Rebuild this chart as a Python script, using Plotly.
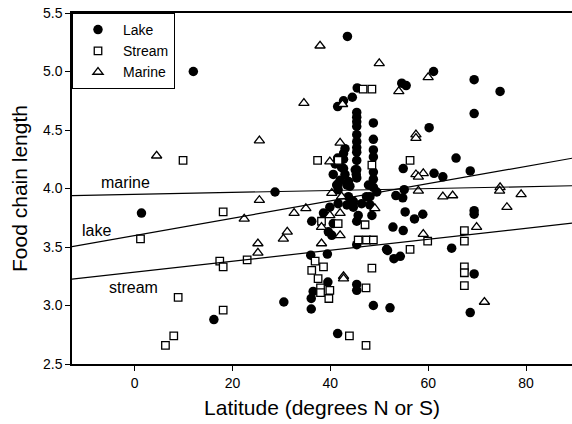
import plotly.graph_objects as go

# ---- data ----
lake_lat = [12.0, 1.4, 28.7, 43.5, 61.1, 69.4, 74.7, 54.6, 55.5, 69.4, 60.2, 65.7, 68.6, 61.2, 63.0, 54.9,
            41.5, 42.7, 44.5, 45.5,
            45.4, 45.4, 45.4, 45.4, 45.4, 45.4, 45.4, 45.4, 45.4, 45.4, 45.4,
            48.8, 48.8, 48.8, 48.8, 48.8, 48.8, 48.8,
            43.0, 42.7, 41.5, 42.7, 41.0, 42.7, 43.0, 42.0, 43.4, 41.6, 43.7, 44.7, 46.4, 47.8, 48.1, 40.6,
            41.3, 42.3, 41.6, 43.7, 44.0, 45.1, 45.3, 49.5, 47.4,
            36.2, 38.6, 39.9, 41.6, 43.4, 44.7, 48.1, 45.7, 48.5, 40.6, 39.6, 40.3, 45.4, 45.4, 36.0, 39.4, 51.5,
            55.3, 57.2, 58.9, 52.8, 54.9, 51.7, 53.0, 54.3, 64.8, 69.4, 69.4, 69.4, 68.6, 48.8, 52.2, 41.5,
            45.4, 45.4, 39.5, 36.5, 36.1, 36.1, 53.4, 55.1, 54.8, 16.2, 30.5]
lake_fcl = [5.00, 3.79, 3.97, 5.30, 5.00, 4.93, 4.83, 4.90, 4.88, 4.64, 4.52, 4.26, 4.15, 4.13, 4.10, 4.17,
            4.70, 4.75, 4.78, 4.86,
            4.65, 4.61, 4.57, 4.53, 4.46, 4.40, 4.35, 4.31, 4.24, 4.16, 4.09,
            4.56, 4.42, 4.33, 4.27, 4.14, 4.08, 4.01,
            4.34, 4.30, 4.26, 4.25, 4.21, 4.17, 4.12, 4.07, 4.03, 3.99, 3.93, 3.89, 3.87, 4.03, 3.93, 4.12,
            4.03, 4.18, 4.04, 4.06, 4.02, 4.16, 4.12, 3.97, 3.93,
            3.72, 3.79, 3.84, 3.87, 3.86, 3.84, 3.86, 3.77, 3.77, 3.70, 3.63, 3.60, 3.72, 3.52, 3.43, 3.44, 3.48,
            3.80, 3.74, 3.78, 3.67, 3.64, 3.47, 3.40, 3.42, 3.49, 3.81, 3.78, 3.27, 2.94, 3.00, 2.98, 2.76,
            3.18, 3.13, 3.20, 3.12, 3.06, 2.97, 3.94, 3.99, 3.92, 2.88, 3.03]

stream_lat = [9.9, 18.1, 1.2, 17.4, 18.1, 23.0, 8.9, 18.1, 8.0, 6.3,
              46.7, 48.5, 48.5, 37.4, 41.6, 56.3,
              38.2, 41.6, 47.1, 45.7, 47.4, 48.8, 36.9, 38.6, 36.2, 48.5, 37.5, 38.0, 38.0, 39.9, 39.7,
              47.3, 43.9, 47.3,
              67.4, 67.4, 59.9, 56.3, 67.4, 67.4, 67.4]
stream_fcl = [4.24, 3.80, 3.57, 3.38, 3.33, 3.39, 3.07, 2.96, 2.74, 2.66,
              4.85, 4.85, 4.20, 4.24, 4.24, 4.24,
              3.72, 3.70, 3.69, 3.56, 3.56, 3.56, 3.38, 3.33, 3.30, 3.32, 3.23, 3.15, 3.11, 3.13, 3.06,
              3.15, 2.74, 2.66,
              3.64, 3.55, 3.55, 3.48, 3.33, 3.28, 3.17]

marine_lat = [4.5, 25.5, 34.6, 37.9, 50.0, 42.5, 54.0, 60.0, 57.5, 57.5, 57.5, 59.0, 58.0, 58.0, 63.0, 65.0,
              74.7, 74.6, 79.0, 76.1, 69.9, 59.0, 71.5,
              25.5, 22.4, 25.2, 25.2, 32.6, 35.0, 31.2, 30.4, 38.2, 38.2, 39.9, 42.0, 49.1, 42.0, 42.0,
              39.9, 40.3, 42.3, 42.7, 42.7]
marine_fcl = [4.28, 4.41, 4.73, 5.22, 5.07, 4.72, 4.83, 4.95, 4.46, 4.43, 4.12, 4.13, 4.10, 3.98, 3.93, 3.94,
              4.01, 3.98, 3.95, 3.84, 3.67, 3.61, 3.03,
              3.90, 3.74, 3.53, 3.45, 3.79, 3.83, 3.63, 3.57, 3.53, 3.67, 3.77, 3.60, 3.83, 3.79, 4.39,
              4.23, 3.96, 3.93, 3.25, 3.23]

# regression lines: label, intercept, slope, label position
fit_names = ["marine", "lake", "stream"]
fit_intercept = [3.950, 3.598, 3.285]
fit_slope = [0.00082, 0.00739, 0.00468]
fit_label_x = [-1.8, -7.8, -0.2]
fit_label_y = [4.05, 3.64, 3.15]

x_range = [-12.8, 89.4]
y_range = [2.5, 5.5]
x_ticks = [0, 20, 40, 60, 80]
y_ticks = [2.5, 3.0, 3.5, 4.0, 4.5, 5.0, 5.5]

FONT = "Arial, Liberation Sans, sans-serif"

fig = go.Figure()
fig.add_trace(go.Scatter(x=lake_lat, y=lake_fcl, mode="markers", name="Lake",
                         marker=dict(symbol="circle", size=9.5, color="black",
                                     line=dict(width=0))))
fig.add_trace(go.Scatter(x=stream_lat, y=stream_fcl, mode="markers", name="Stream",
                         marker=dict(symbol="square", size=7.5, color="white",
                                     line=dict(width=1.3, color="black"))))
fig.add_trace(go.Scatter(x=marine_lat, y=marine_fcl, mode="markers", name="Marine",
                         marker=dict(symbol="triangle-up", size=9, color="white",
                                     line=dict(width=1.3, color="black"))))

for name, b0, b1, lx, ly in zip(fit_names, fit_intercept, fit_slope, fit_label_x, fit_label_y):
    xs = [x_range[0], x_range[1]]
    ys = [b0 + b1 * v for v in xs]
    fig.add_trace(go.Scatter(x=xs, y=ys, mode="lines", showlegend=False,
                             line=dict(color="black", width=1.2), hoverinfo="skip"))
    fig.add_annotation(x=lx, y=ly, text=name, showarrow=False,
                       font=dict(family=FONT, size=16, color="black"))

fig.update_layout(
    width=572, height=424,
    margin=dict(l=72, r=0, t=13, b=60),
    paper_bgcolor="white", plot_bgcolor="white",
    font=dict(family=FONT, color="black"),
    showlegend=True,
    legend=dict(x=0, y=1, xanchor="left", yanchor="top",
                bordercolor="black", borderwidth=1, bgcolor="white",
                font=dict(family=FONT, size=14, color="black"),
                itemwidth=40, tracegroupgap=0,
                entrywidth=100, entrywidthmode="pixels"),
    xaxis=dict(range=x_range, tickvals=x_ticks, ticks="outside", ticklen=5,
               tickcolor="black", tickwidth=1.2,
               showline=True, linecolor="black", linewidth=1.5, mirror=True,
               showgrid=False, zeroline=False,
               tickfont=dict(family=FONT, size=14),
               title=dict(text="Latitude (degrees N or S)", font=dict(family=FONT, size=21),
                          standoff=11)),
    yaxis=dict(range=y_range, tickvals=y_ticks, tickformat=".1f", ticks="outside", ticklen=5,
               tickcolor="black", tickwidth=1.2,
               showline=True, linecolor="black", linewidth=1.5,
               showgrid=False, zeroline=False,
               tickfont=dict(family=FONT, size=14),
               title=dict(text="Food chain length", font=dict(family=FONT, size=21),
                          standoff=10)),
)

fig.write_html("out.html")
